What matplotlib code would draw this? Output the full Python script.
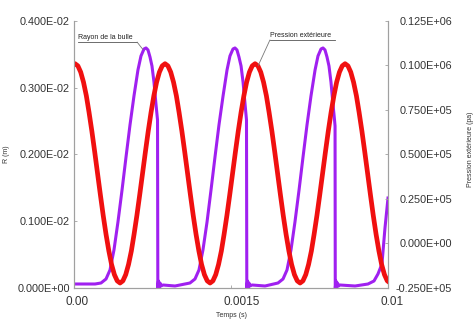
import numpy as np
import matplotlib
matplotlib.use('Agg')
import matplotlib.pyplot as plt
from matplotlib.transforms import ScaledTranslation

# rayon de la bulle : temps (ms) / rayon (mm), un bloc par cycle
temps_r_ms = [0.000, 0.105, 0.201, 0.258, 0.306, 0.344, 0.382, 0.420, 0.459, 0.497,
              0.535, 0.573, 0.611, 0.640, 0.669, 0.688, 0.707, 0.726, 0.745, 0.764,
              0.783, 0.798, 0.801, 0.807, 0.815, 0.822, 0.831, 0.850, 0.965,
              1.108, 1.156, 1.194, 1.232, 1.271, 1.309, 1.347, 1.385, 1.424, 1.462,
              1.490, 1.519, 1.538, 1.557, 1.576, 1.596, 1.615, 1.634, 1.648, 1.651,
              1.658, 1.665, 1.672, 1.681, 1.701, 1.825,
              1.949, 1.997, 2.035, 2.073, 2.111, 2.150, 2.188, 2.226, 2.264, 2.303,
              2.331, 2.360, 2.379, 2.398, 2.417, 2.436, 2.455, 2.474, 2.489, 2.494,
              2.496, 2.503, 2.511, 2.517, 2.527, 2.541, 2.685, 2.809, 2.866, 2.904,
              2.942, 2.971, 3.000]
rayon_mm = [0.060, 0.060, 0.060, 0.075, 0.135, 0.270, 0.570, 0.989, 1.468, 1.962,
            2.442, 2.876, 3.266, 3.476, 3.581, 3.596, 3.566, 3.461, 3.326, 3.086,
            2.757, 2.517, 0.000, 0.105, 0.015, 0.075, 0.030, 0.045, 0.030,
            0.075, 0.135, 0.270, 0.570, 0.989, 1.468, 1.962, 2.442, 2.876, 3.266,
            3.476, 3.581, 3.596, 3.566, 3.461, 3.326, 3.086, 2.757, 2.517, 0.000,
            0.105, 0.015, 0.075, 0.030, 0.045, 0.030,
            0.075, 0.135, 0.270, 0.570, 0.989, 1.468, 1.962, 2.442, 2.876, 3.266,
            3.476, 3.581, 3.596, 3.566, 3.461, 3.326, 3.086, 2.757, 2.517, 2.427,
            0.000, 0.105, 0.015, 0.075, 0.030, 0.045, 0.030, 0.060, 0.105, 0.210,
            0.360, 0.899, 1.348]

# pression exterieure : temps (ms) / pression (kPa)
temps_p_ms = [0.000,
              0.010, 0.037, 0.064, 0.091, 0.118, 0.144, 0.171, 0.198, 0.225, 0.252,
              0.279, 0.306, 0.333, 0.359, 0.386, 0.413, 0.440, 0.467, 0.494, 0.521,
              0.548, 0.574, 0.601, 0.628, 0.655, 0.682, 0.709, 0.736, 0.763, 0.789,
              0.816, 0.843,
              0.870, 0.897, 0.924, 0.951, 0.978, 1.004, 1.031, 1.058, 1.085, 1.112,
              1.139, 1.166, 1.193, 1.219, 1.246, 1.273, 1.300, 1.327, 1.354, 1.381,
              1.408, 1.434, 1.461, 1.488, 1.515, 1.542, 1.569, 1.596, 1.623, 1.649,
              1.676, 1.703,
              1.730, 1.757, 1.784, 1.811, 1.838, 1.864, 1.891, 1.918, 1.945, 1.972,
              1.999, 2.026, 2.053, 2.079, 2.106, 2.133, 2.160, 2.187, 2.214, 2.241,
              2.268, 2.294, 2.321, 2.348, 2.375, 2.402, 2.429, 2.456, 2.483, 2.509,
              2.536, 2.563,
              2.590, 2.617, 2.644, 2.671, 2.698, 2.724, 2.751, 2.778, 2.805, 2.832,
              2.859, 2.886, 2.913, 2.939, 2.966, 2.993, 3.020]
pression_kpa = [100.9,
                101.0, 99.8, 96.3, 90.6, 83.0, 73.6, 63.0, 51.4, 39.4, 27.4,
                15.8, 5.2, -4.2, -11.8, -17.5, -21.0, -22.2, -21.0, -17.5, -11.8,
                -4.2, 5.2, 15.8, 27.4, 39.4, 51.4, 63.0, 73.6, 83.0, 90.6,
                96.3, 99.8,
                101.0, 99.8, 96.3, 90.6, 83.0, 73.6, 63.0, 51.4, 39.4, 27.4,
                15.8, 5.2, -4.2, -11.8, -17.5, -21.0, -22.2, -21.0, -17.5, -11.8,
                -4.2, 5.2, 15.8, 27.4, 39.4, 51.4, 63.0, 73.6, 83.0, 90.6,
                96.3, 99.8,
                101.0, 99.8, 96.3, 90.6, 83.0, 73.6, 63.0, 51.4, 39.4, 27.4,
                15.8, 5.2, -4.2, -11.8, -17.5, -21.0, -22.2, -21.0, -17.5, -11.8,
                -4.2, 5.2, 15.8, 27.4, 39.4, 51.4, 63.0, 73.6, 83.0, 90.6,
                96.3, 99.8,
                101.0, 99.8, 96.3, 90.6, 83.0, 73.6, 63.0, 51.4, 39.4, 27.4,
                15.8, 5.2, -4.2, -11.8, -17.5, -21.0, -22.2]

x_ticks = [0.0, 0.0015, 0.003]
x_ticklabels = ["0.00", "0.0015", "0.01"]
r_ticks = [0.0, 0.001, 0.002, 0.003, 0.004]
r_ticklabels = ["0.000E+00", "0.100E-02", "0.200E-02", "0.300E-02", "0.400E-02"]
p_ticks = [-25000, 0, 25000, 50000, 75000, 100000, 125000]
p_ticklabels = ["-0.250E+05", "0.000E+00", "0.250E+05", "0.500E+05",
                "0.750E+05", "0.100E+06", "0.125E+06"]

plt.rcParams['font.family'] = ['Liberation Sans', 'DejaVu Sans']

purple = '#a020f0'
red = '#f01010'
axis_gray = '#a0a0a0'
text_col = '#333333'

fig = plt.figure(figsize=(4.74, 3.21), dpi=100)
ax = fig.add_axes([0.1561, 0.1028, 0.6625, 0.8318])
ax2 = ax.twinx()

t_r = np.array(temps_r_ms) * 1e-3
R = np.array(rayon_mm) * 1e-3
t_p = np.array(temps_p_ms) * 1e-3
p = np.array(pression_kpa) * 1e3

ax.plot(t_r, R, color=purple, lw=2.2, solid_joinstyle='round')
ax2.plot(t_p, p, color=red, lw=3.4, solid_joinstyle='round',
         solid_capstyle='round')

ax.set_xlim(0, 0.003)
ax.set_ylim(0, 0.004)
ax2.set_ylim(-25000, 125000)

ax.set_xticks(x_ticks)
ax.set_xticklabels(x_ticklabels)
ax.set_yticks(r_ticks)
ax.set_yticklabels(r_ticklabels)
ax2.set_yticks(p_ticks)
ax2.set_yticklabels(p_ticklabels)

for a in (ax, ax2):
    a.spines['top'].set_visible(False)
    for s in ('left', 'right', 'bottom'):
        a.spines[s].set_color(axis_gray)
        a.spines[s].set_linewidth(0.8)
    a.tick_params(direction='in', length=2.5, width=0.6, color=axis_gray,
                  labelsize=7.8, labelcolor=text_col)
ax.tick_params(axis='x', labelsize=8.5)
ax.tick_params(axis='y', pad=3)
ax.tick_params(axis='x', pad=6)
# etiquettes de droite alignees a droite vers x = 452 px
ax2.tick_params(axis='y', pad=46)
for lab in ax2.get_yticklabels():
    lab.set_horizontalalignment('right')

# les etiquettes de l'axe des temps sont decalees vers la droite
shift = ScaledTranslation(-0.08, 0, fig.dpi_scale_trans)
for lab in ax.get_xticklabels():
    lab.set_horizontalalignment('left')
    lab.set_transform(lab.get_transform() + shift)

ax.set_xlabel('Temps (s)', fontsize=5, color=text_col)
ax.xaxis.set_label_coords(0.503, -0.09)
ax.set_ylabel('R (m)', fontsize=5, color=text_col)
ax.yaxis.set_label_coords(-0.205, 0.5)
ax2.set_ylabel('Pression extérieure (pa)', fontsize=5, color=text_col)
ax2.yaxis.set_label_coords(1.25, 0.52)

# legendes soulignees avec trait de rappel
ax.text(0.013, 0.925, 'Rayon de la bulle', transform=ax.transAxes,
        fontsize=5, color='#222222', va='bottom')
ax.plot([0.013, 0.201], [0.921, 0.921], transform=ax.transAxes,
        color='#555555', lw=0.6, clip_on=False)
ax.annotate('', xy=(0.66e-3, 0.00357), xycoords='data',
            xytext=(0.201, 0.921), textcoords='axes fraction',
            arrowprops=dict(arrowstyle='-', color='#777777', lw=0.6,
                            shrinkA=0, shrinkB=0))

ax2.text(0.624, 0.933, 'Pression extérieure', transform=ax2.transAxes,
         fontsize=5, color='#222222', va='bottom')
ax2.plot([0.624, 0.831], [0.929, 0.929], transform=ax2.transAxes,
         color='#555555', lw=0.6, clip_on=False)
ax2.annotate('', xy=(1.76e-3, 100000), xycoords='data',
             xytext=(0.624, 0.929), textcoords='axes fraction',
             arrowprops=dict(arrowstyle='-', color='#777777', lw=0.6,
                             shrinkA=0, shrinkB=0))

fig.savefig('out.png', dpi=100, facecolor='white')
